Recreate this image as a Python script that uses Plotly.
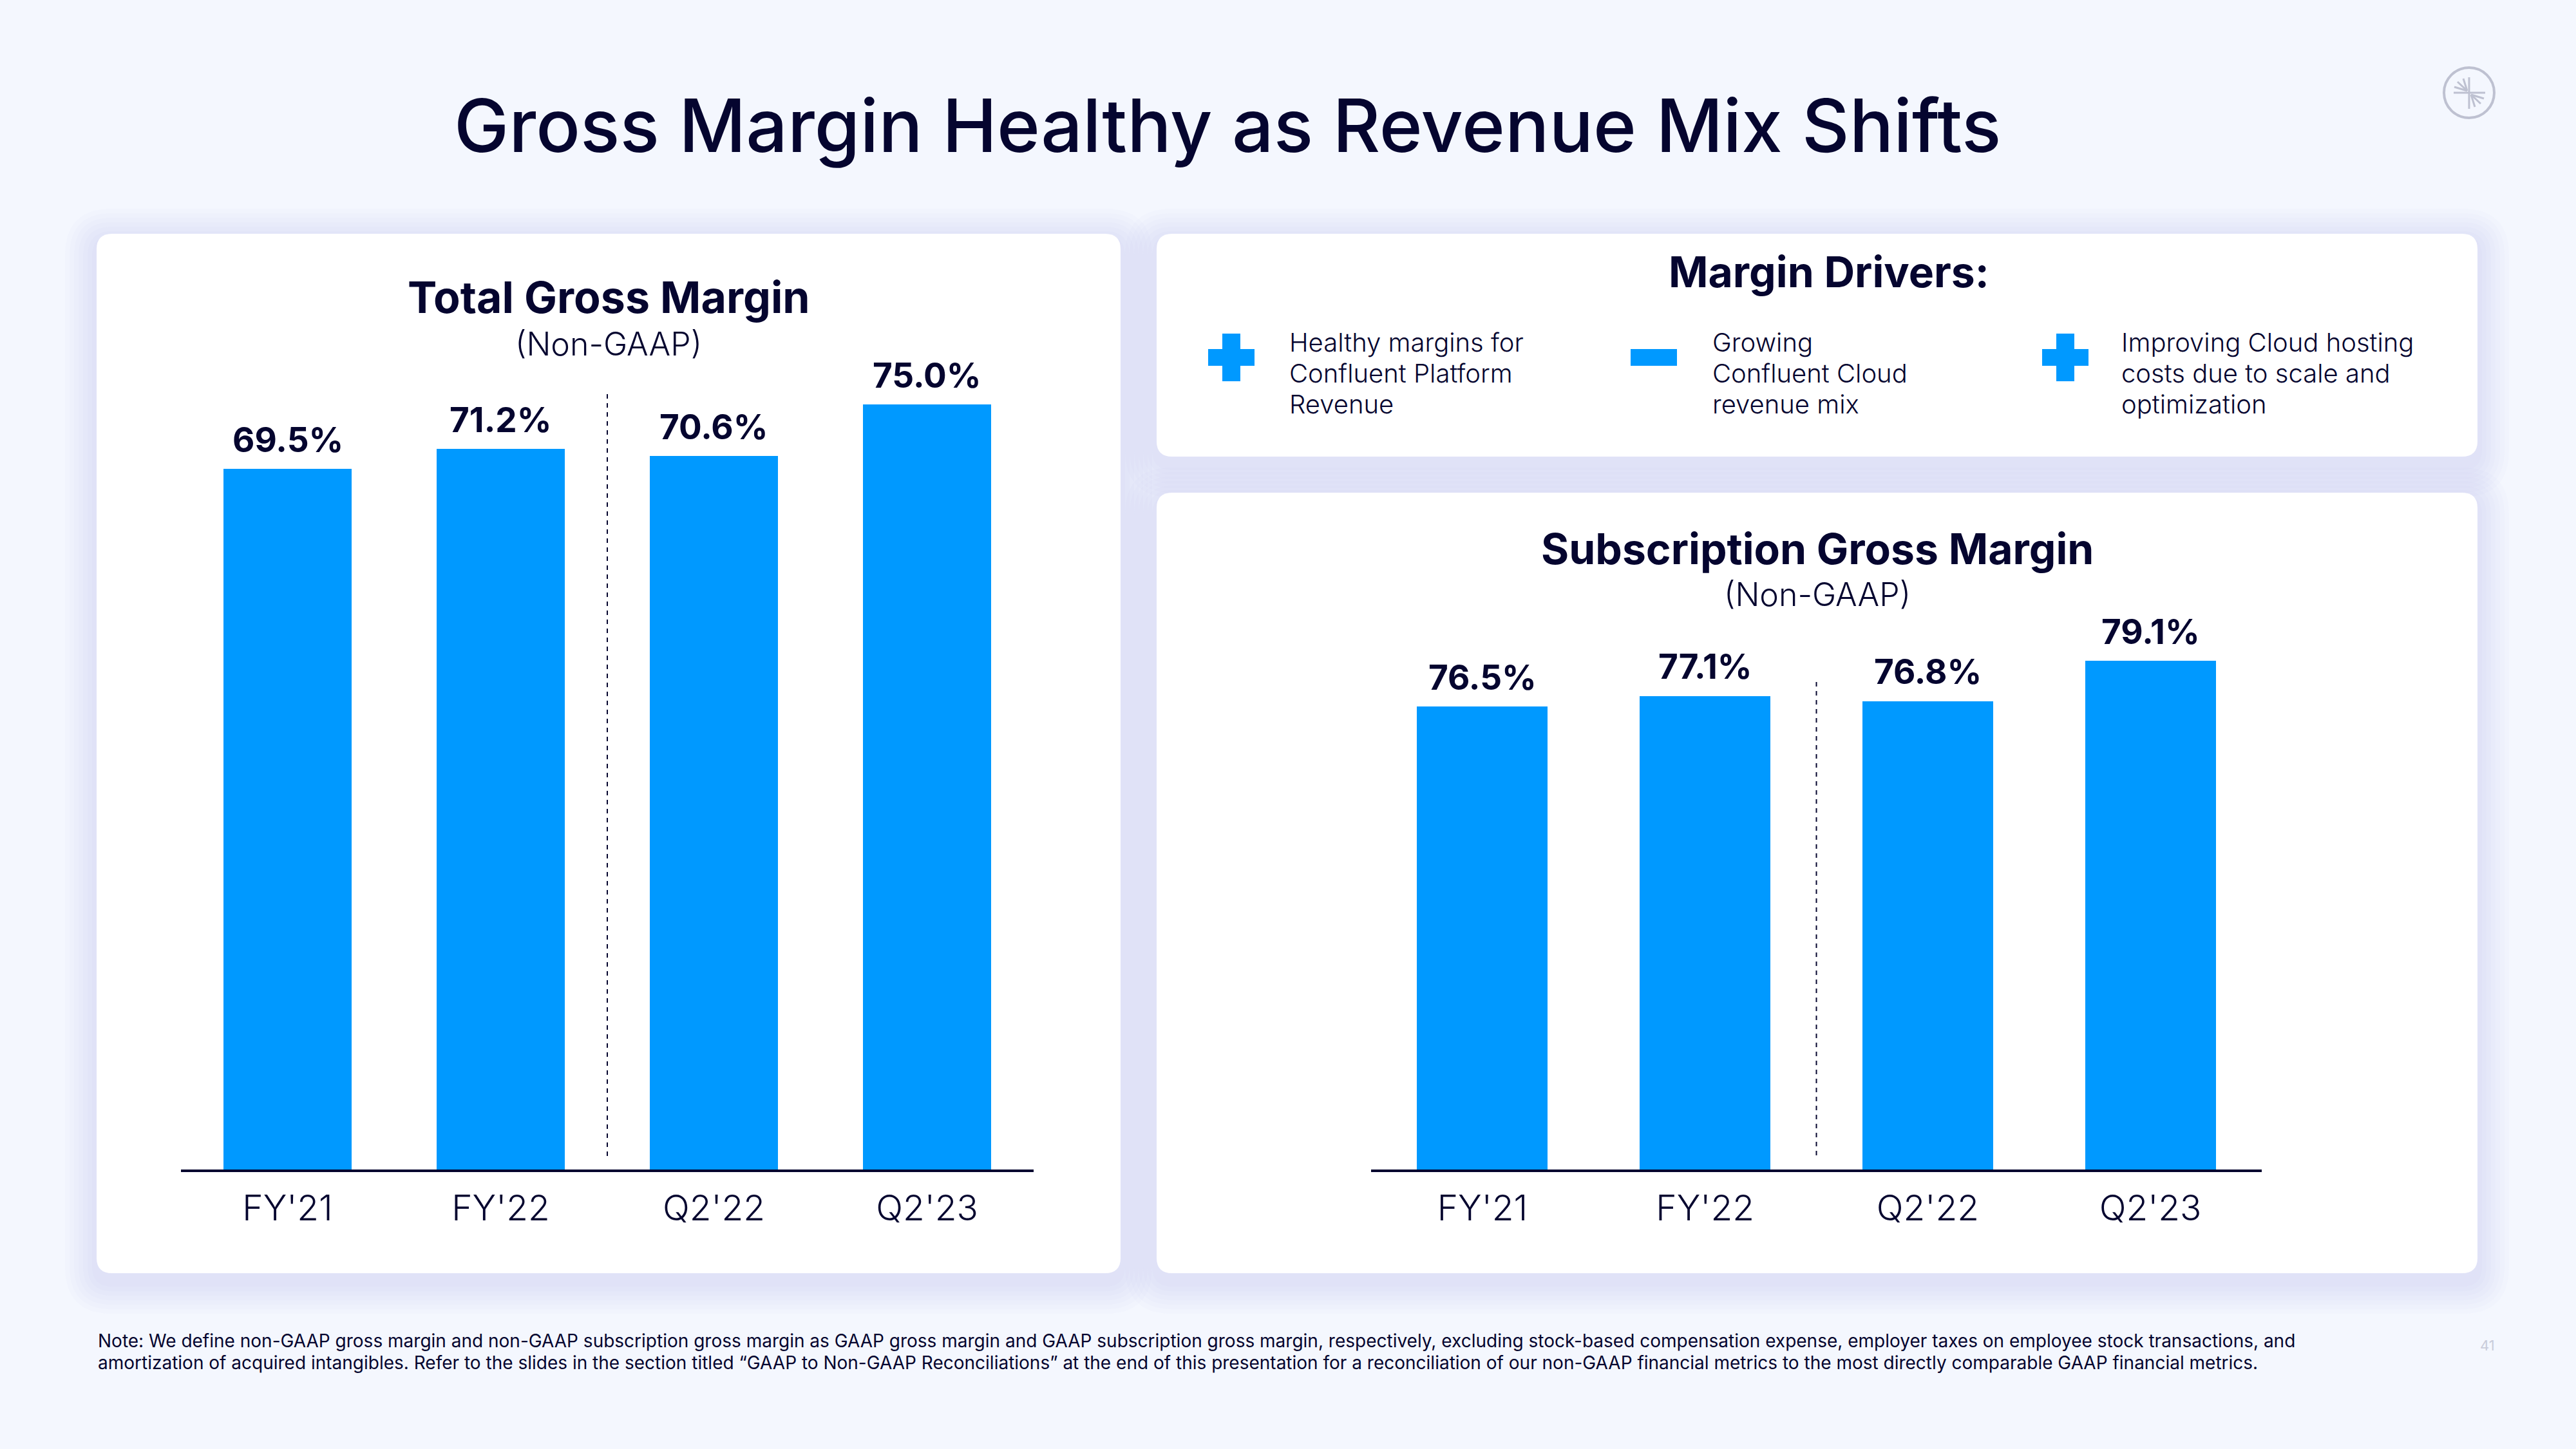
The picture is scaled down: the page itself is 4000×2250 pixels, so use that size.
import plotly.graph_objects as go

# ---------------- data ----------------
categories = ["FY'21", "FY'22", "Q2'22", "Q2'23"]
total_gross_margin = [69.5, 71.2, 70.6, 75.0]
subscription_gross_margin = [76.5, 77.1, 76.8, 79.1]

title_text = "Gross Margin Healthy as Revenue Mix Shifts"
drivers = [
    ("+", ["Healthy margins for", "Confluent Platform", "Revenue"]),
    ("-", ["Growing", "Confluent Cloud", "revenue mix"]),
    ("+", ["Improving Cloud hosting", "costs due to scale and", "optimization"]),
]
footnote_lines = [
    "Note: We define non-GAAP gross margin and non-GAAP subscription gross margin as GAAP gross margin and GAAP subscription gross margin, respectively, excluding stock-based compensation expense, employer taxes on employee stock transactions, and",
    "amortization of acquired intangibles. Refer to the slides in the section titled \u201cGAAP to Non-GAAP Reconciliations\u201d at the end of this presentation for a reconciliation of our non-GAAP financial metrics to the most directly comparable GAAP financial metrics.",
]

# ---------------- style ----------------
W, H = 4000, 2250
NAVY = "#05052F"
BLUE = "#0099FF"
BG = "#F4F7FE"
GREY = "#BEC1D1"
FONT = "Inter"
ASC, DESC, CAP = 0.969, 0.242, 0.727

def PX(x):
    return x / W

def PY(y):
    return 1 - y / H

shapes = []
annotations = []

def rrect_path(x0, y0, x1, y1, r):
    pts = [
        ("M", [(x0 + r, y0)]),
        ("L", [(x1 - r, y0)]),
        ("Q", [(x1, y0), (x1, y0 + r)]),
        ("L", [(x1, y1 - r)]),
        ("Q", [(x1, y1), (x1 - r, y1)]),
        ("L", [(x0 + r, y1)]),
        ("Q", [(x0, y1), (x0, y1 - r)]),
        ("L", [(x0, y0 + r)]),
        ("Q", [(x0, y0), (x0 + r, y0)]),
    ]
    s = ""
    for cmd, ps in pts:
        s += cmd + " " + " ".join(f"{PX(a):.6f},{PY(b):.6f}" for a, b in ps) + " "
    return s + "Z"

def card(x0, y0, x1, y1, r=24):
    for i in range(7, 0, -1):
        g = i * 7
        shapes.append(dict(type="path", xref="paper", yref="paper", layer="below",
                           path=rrect_path(x0 - g, y0 - g + 10, x1 + g, y1 + g + 14, r + g),
                           fillcolor="rgba(175,180,228,0.035)", line=dict(width=0)))
    shapes.append(dict(type="path", xref="paper", yref="paper", layer="below",
                       path=rrect_path(x0, y0, x1, y1, r),
                       fillcolor="white", line=dict(width=0)))

def text(s, x, y_base, size, weight=400, color=NAVY, xanchor="center", align="center"):
    annotations.append(dict(
        text=s, xref="paper", yref="paper", x=PX(x),
        y=PY(y_base + DESC * size + 1), yanchor="bottom", xanchor=xanchor, align=align,
        showarrow=False, font=dict(family=FONT, size=size, color=color, weight=weight)))

def rect_px(x0, y0, x1, y1, color, layer="above"):
    shapes.append(dict(type="rect", xref="paper", yref="paper", layer=layer,
                       x0=PX(x0), x1=PX(x1), y0=PY(y1), y1=PY(y0),
                       fillcolor=color, line=dict(width=0)))

def line_px(x0, y0, x1, y1, color, width):
    shapes.append(dict(type="line", xref="paper", yref="paper", layer="above",
                       x0=PX(x0), x1=PX(x1), y0=PY(y0), y1=PY(y1),
                       line=dict(color=color, width=width)))

# ---------------- cards ----------------
card(150, 363, 1740, 1977)
card(1796, 363, 3847, 709)
card(1796, 765, 3847, 1977)

# ---------------- titles ----------------
text(title_text, 1906, 236, 114, weight=500)
text("Total Gross Margin", 945, 487, 68, weight=700)
text("(Non-GAAP)", 945, 553, 50, weight=300)
text("Subscription Gross Margin", 2822, 877, 66, weight=700)
text("(Non-GAAP)", 2822, 942, 50, weight=300)
text("Margin Drivers:", 2840, 447, 66, weight=700)

# ---------------- drivers ----------------
icon_x = [1912, 2568, 3207]
text_x = [2000, 2657, 3292]
DRV = 40
for (sign, lines), ix, tx in zip(drivers, icon_x, text_x):
    cy = 555
    rect_px(ix - 36, cy - 13, ix + 36, cy + 13, BLUE)
    if sign == "+":
        rect_px(ix - 14, cy - 37, ix + 14, cy + 37, BLUE)
    for k, ln in enumerate(lines):
        text(ln, tx, 547 + 48 * k, DRV, weight=300, xanchor="left", align="left")

# ---------------- footnote / page no. ----------------
FN = 28
for k, ln in enumerate(footnote_lines):
    text(ln, 150, 2093 + 34 * k, FN, weight=400, xanchor="left", align="left")
text("41", 3862, 2098, 22, weight=400, color="#C9CCDA")

# ---------------- logo ----------------
cx, cy = 3834, 144
shapes.append(dict(type="circle", xref="paper", yref="paper", layer="above",
                   x0=PX(cx - 39), x1=PX(cx + 39), y0=PY(cy + 39), y1=PY(cy - 39),
                   line=dict(color=GREY, width=4)))
line_px(cx, cy - 24, cx, cy + 25, GREY, 3)
line_px(cx - 24, cy, cx + 25, cy, GREY, 3)
for dx, dy in [(-23, -9), (-18, -17), (-9, -22)]:
    line_px(cx - 3, cy - 3, cx + dx, cy + dy, GREY, 3)
    line_px(cx + 3, cy + 3, cx - dx, cy - dy, GREY, 3)

# ---------------- charts ----------------
fig = go.Figure()

fig.add_trace(go.Bar(x=categories, y=total_gross_margin, marker=dict(color=BLUE, line=dict(width=0)),
                     width=0.604, xaxis="x", yaxis="y", hoverinfo="x+y"))
fig.add_trace(go.Bar(x=categories, y=subscription_gross_margin, marker=dict(color=BLUE, line=dict(width=0)),
                     width=0.587, xaxis="x2", yaxis="y2", hoverinfo="x+y"))

LBL = 53
for c, v in zip(categories, total_gross_margin):
    annotations.append(dict(text=f"{v:.1f}%", x=c, y=v, xref="x", yref="y", yanchor="bottom",
                            yshift=25 - DESC * LBL - 1, showarrow=False,
                            font=dict(family=FONT, size=LBL, color=NAVY, weight=700)))
for c, v in zip(categories, subscription_gross_margin):
    annotations.append(dict(text=f"{v:.1f}%", x=c, y=v, xref="x2", yref="y2", yanchor="bottom",
                            yshift=25 - DESC * LBL - 1, showarrow=False,
                            font=dict(family=FONT, size=LBL, color=NAVY, weight=700)))

# dashed dividers between annual and quarterly
shapes.append(dict(type="line", xref="x", yref="paper", x0=1.5, x1=1.5, y0=PY(1795), y1=PY(606),
                   line=dict(color=NAVY, width=2, dash="7px,7px"), layer="above"))
shapes.append(dict(type="line", xref="x2", yref="paper", x0=1.5, x1=1.5, y0=PY(1794), y1=PY(1058),
                   line=dict(color=NAVY, width=2, dash="7px,7px"), layer="above"))

dom_bottom, dom_top = 1816, 560
plot_h = dom_bottom - dom_top
ydom = [PY(dom_bottom), PY(dom_top)]
axis_common = dict(showgrid=False, zeroline=False, showticklabels=False, ticks="", fixedrange=True)
xcommon = dict(showgrid=False, zeroline=False, showline=True, linecolor=NAVY, linewidth=4,
               ticks="", tickfont=dict(family=FONT, size=55, color=NAVY, weight=300),
               range=[-0.5, 3.5], type="category", ticklabelstandoff=9, fixedrange=True)

fig.update_layout(
    width=W, height=H, margin=dict(l=0, r=0, t=0, b=0),
    paper_bgcolor=BG, plot_bgcolor="rgba(0,0,0,0)",
    showlegend=False, bargap=0,
    xaxis=dict(domain=[PX(281), PX(1605)], anchor="y", **xcommon),
    yaxis=dict(domain=ydom, range=[10, 10 + plot_h / 18.28], anchor="x", **axis_common),
    xaxis2=dict(domain=[PX(2129), PX(3512)], anchor="y2", **xcommon),
    yaxis2=dict(domain=ydom, range=[50, 50 + plot_h / 27.14], anchor="x2", **axis_common),
    shapes=shapes,
    annotations=annotations,
    font=dict(family=FONT, color=NAVY),
)

fig.write_html("out.html", config={"displayModeBar": False},
               post_script="document.body.style.margin='0';document.body.style.padding='0';"
                           "document.body.style.overflow='hidden';")
